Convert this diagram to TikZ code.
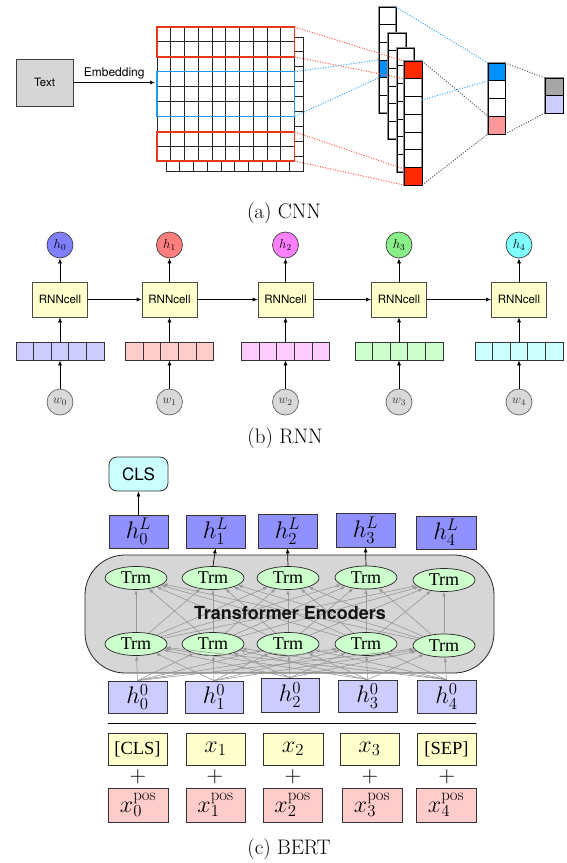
\RequirePackage{fix-cm}
\documentclass[tikz,border=0pt]{standalone}
\usepackage{fontspec}
\newfontfamily\hv{TeX Gyre Heros}
\newfontfamily\tms{Liberation Serif}
\usetikzlibrary{arrows.meta,shapes.geometric}
\definecolor{cnnred}{HTML}{FF2A00}
\definecolor{cnnblue}{HTML}{0091FF}
\definecolor{rectblue}{HTML}{1A9BEF}
\definecolor{rectred}{HTML}{E8381A}
\definecolor{dotred}{HTML}{FF5A3C}
\definecolor{dotblue}{HTML}{33A8FF}
\definecolor{dotblack}{HTML}{555555}
\definecolor{poolpink}{HTML}{FF9999}
\definecolor{outgray}{HTML}{A6A6A6}
\definecolor{lav}{HTML}{CCCCFF}
\definecolor{boxgray}{HTML}{D6D6D6}
\definecolor{cellyel}{HTML}{FFFFCC}
\definecolor{hA}{HTML}{7F7FFF}
\definecolor{hB}{HTML}{FF7F7F}
\definecolor{hC}{HTML}{FF80FF}
\definecolor{hD}{HTML}{88EE88}
\definecolor{hE}{HTML}{80FFFF}
\definecolor{vA}{HTML}{CCCCFF}
\definecolor{vB}{HTML}{FFCCCC}
\definecolor{vC}{HTML}{FFCCFF}
\definecolor{vD}{HTML}{CCFFCC}
\definecolor{vE}{HTML}{CCFFFF}
\definecolor{wgray}{HTML}{D9D9D9}
\definecolor{hLcol}{HTML}{9090FF}
\definecolor{hZcol}{HTML}{CCCCFF}
\definecolor{poscol}{HTML}{FFCCCC}
\definecolor{clscol}{HTML}{CCFFFF}
\definecolor{trmcol}{HTML}{CCFFCC}
\definecolor{arrgray}{HTML}{999999}
\begin{document}
\begin{tikzpicture}[x=1pt,y=-1pt,
  gl/.style={draw=black!85,line width=0.8pt},
  mapsh/.style={fill=white,draw=black!45,line width=1.8pt},
  mapcell/.style={draw=black,line width=0.7pt},
  dotr/.style={draw=dotred,line width=1pt,dash pattern=on 1pt off 1.6pt},
  dotb/.style={draw=dotblue,line width=1pt,dash pattern=on 1pt off 1.6pt},
  dotk/.style={draw=dotblack,line width=1pt,dash pattern=on 1pt off 1.6pt},
  arr/.style={-{Latex[length=5pt,width=4pt]},line width=0.7pt,black},
  garr/.style={-{Latex[length=4.5pt,width=3.5pt]},line width=0.55pt,draw=arrgray,fill=arrgray},
  cellbox/.style={draw=black!70,line width=0.7pt,fill=cellyel,minimum width=55pt,minimum height=35pt,inner sep=0pt,font=\hv\fontsize{11.5}{13}\selectfont},
  hcirc/.style={circle,draw=black!75,line width=0.7pt,minimum size=26pt,inner sep=0pt,font=\fontsize{13}{15}\selectfont},
  wcirc/.style={circle,draw=black!60,line width=0.7pt,fill=wgray,minimum size=26pt,inner sep=0pt,text=black!82,font=\fontsize{12.5}{15}\selectfont},
  vecbox/.style={draw=black!80,line width=0.7pt,minimum width=88pt,minimum height=18pt,inner sep=0pt},
  bbox/.style={draw=black!80,line width=0.8pt,minimum width=59pt,inner sep=0pt,font=\fontsize{24}{28}\selectfont},
  trm/.style={ellipse,draw=black!85,line width=0.7pt,fill=trmcol,minimum width=62pt,minimum height=23pt,inner sep=0pt,font=\tms\fontsize{18}{20}\selectfont},
  plus/.style={inner sep=0pt,font=\fontsize{23}{26}\selectfont},
  capt/.style={inner sep=0pt,font=\fontsize{21}{25}\selectfont}
]
\useasboundingbox (0,0) rectangle (566,863);
\fill[white] (0,0) rectangle (566,863);

% ================= (a) CNN =================
\node (txt) [draw=black!75,line width=0.8pt,fill=boxgray,minimum width=57pt,minimum height=47pt,inner sep=0pt,font=\hv\fontsize{11.5}{13}\selectfont] at (44.5,82.5) {Text};
\coordinate (emb) at (155,82.5);
\draw[arr] (txt.east) -- node[above=0pt,font=\hv\fontsize{12}{14}\selectfont] {Embedding} (emb);

% back matrix
\fill[white] (166,37) rectangle (303.5,171);
\foreach \i in {0,...,10} \draw[gl] ({166+\i*13.75},37) -- ({166+\i*13.75},171);
\foreach \j in {0,...,9} \draw[gl] (166,{37+\j*14.889}) -- (303.5,{37+\j*14.889});
% front matrix
\fill[white] (157,27) rectangle (294.5,161);
\foreach \i in {0,...,10} \draw[gl] ({157+\i*13.75},27) -- ({157+\i*13.75},161);
\foreach \j in {0,...,9} \draw[gl] (157,{27+\j*14.889}) -- (294.5,{27+\j*14.889});
\draw[rectred,line width=1.4pt] (157,27) rectangle (294.5,56.8);
\draw[rectred,line width=1.4pt] (157,131.9) rectangle (294.5,161);
\draw[rectblue,line width=1.4pt] (157,71.7) rectangle (294.5,116.3);

% feature maps
\filldraw[mapsh] (379,7) rectangle (396,113);
\fill[cnnblue] (379,60) rectangle (396,77.7);
\foreach \k in {0,...,5} \draw[mapcell] (379,{7+\k*17.667}) rectangle (396,{7+(\k+1)*17.667});
\filldraw[mapsh] (388,33) rectangle (406,139);
\foreach \k in {0,...,5} \draw[mapcell] (388,{33+\k*17.667}) rectangle (406,{33+(\k+1)*17.667});
\filldraw[mapsh] (397,48) rectangle (414,172);
\foreach \k in {0,...,6} \draw[mapcell] (397,{48+\k*17.714}) rectangle (414,{48+(\k+1)*17.714});
\filldraw[mapsh] (404,61) rectangle (422,185);
\fill[cnnred] (404,61) rectangle (422,78.7);
\fill[cnnred] (404,167.3) rectangle (422,185);
\foreach \k in {0,...,6} \draw[mapcell] (404,{61+\k*17.714}) rectangle (422,{61+(\k+1)*17.714});

% pooled vector
\draw[black!45,line width=1.8pt] (488,63) rectangle (505,134);
\fill[cnnblue] (488,63) rectangle (505,80.75);
\fill[white] (488,80.75) rectangle (505,116.25);
\fill[poolpink] (488,116.25) rectangle (505,134);
\foreach \k in {0,...,3} \draw[mapcell] (488,{63+\k*17.75}) rectangle (505,{63+(\k+1)*17.75});
% output
\draw[black!45,line width=1.8pt] (545,78) rectangle (563,113);
\fill[outgray] (545,78) rectangle (563,95.5);
\fill[lav] (545,95.5) rectangle (563,113);
\draw[mapcell] (545,78) rectangle (563,95.5);
\draw[mapcell] (545,95.5) rectangle (563,113);

% dotted connectors
\coordinate (mr1) at (294.5,27);   \coordinate (fr1) at (404,61);
\coordinate (mr2) at (294.5,56.8); \coordinate (fr2) at (404,78.7);
\coordinate (mr3) at (294.5,131.9);\coordinate (fr3) at (404,169);
\coordinate (mr4) at (294.5,161);  \coordinate (fr4) at (404,185);
\coordinate (mb1) at (294.5,71.7); \coordinate (fb1) at (379,60);
\coordinate (mb2) at (294.5,116.3);\coordinate (fb2) at (379,77.7);
\coordinate (ma) at (396,7);   \coordinate (pa) at (488,63);
\coordinate (mc) at (422,100); \coordinate (pc) at (488,80.75);
\coordinate (md) at (422,61);  \coordinate (pd) at (488,116.25);
\coordinate (me) at (422,185); \coordinate (pe) at (488,134);
\coordinate (pf) at (505,63);  \coordinate (of) at (545,78);
\coordinate (pg) at (505,134); \coordinate (og) at (545,113);
\draw[dotr] (mr1) -- (fr1);
\draw[dotr] (mr2) -- (fr2);
\draw[dotr] (mr3) -- (fr3);
\draw[dotr] (mr4) -- (fr4);
\draw[dotb] (mb1) -- (fb1);
\draw[dotb] (mb2) -- (fb2);
\draw[dotb] (ma) -- (pa);
\draw[dotb] (mc) -- (pc);
\draw[dotk] (md) -- (pd);
\draw[dotk] (me) -- (pe);
\draw[dotk] (pf) -- (of);
\draw[dotk] (pg) -- (og);

\node[capt] (capa) at (284,213) {(a) CNN};

% ================= (b) RNN =================
\foreach \n/\x/\hc/\vc in {0/60/hA/vA,1/169.5/hB/vB,2/285.5/hC/vC,3/399/hD/vD,4/519/hE/vE}{
  \node[cellbox] (cell\n) at (\x,299.5) {RNNcell};
  \node[hcirc,fill=\hc] (h\n) at (\x,245) {$h_{\n}$};
  \node[vecbox,fill=\vc] (vec\n) at (\x,351) {};
  \foreach \k in {1,...,4} \draw[black!80,line width=0.7pt] ({\x-44+\k*17.6},342) -- ({\x-44+\k*17.6},360);
  \node[wcirc] (w\n) at (\x,402) {$w_{\n}$};
  \draw[arr] (w\n.north) -- (vec\n.south);
  \draw[arr] (vec\n.north) -- (cell\n.south);
  \draw[arr] (cell\n.north) -- (h\n.south);
}
\foreach \a/\b in {0/1,1/2,2/3,3/4} \draw[arr] (cell\a.east) -- (cell\b.west);

\node[capt] (capb) at (285,438) {(b) RNN};

% ================= (c) BERT =================
\node (enc) [draw=black!85,line width=0.8pt,fill=boxgray,rounded corners=40pt,minimum width=409pt,minimum height=118pt,inner sep=0pt] at (289.5,614) {};

\node[bbox,fill=clscol,rounded corners=8pt,minimum height=34pt,font=\hv\fontsize{17}{20}\selectfont] (cls) at (138.5,474) {CLS};

\node[bbox,fill=hLcol,minimum height=33pt] (hL0) at (138.5,531.5) {$h_0^L$};
\node[bbox,fill=hLcol,minimum height=33pt] (hL1) at (215.5,531.5) {$h_1^L$};
\node[bbox,fill=hLcol,minimum height=34pt] (hL2) at (287.5,531) {$h_2^L$};
\node[bbox,fill=hLcol,minimum height=34pt] (hL3) at (365.5,530) {$h_3^L$};
\node[bbox,fill=hLcol,minimum height=33pt,minimum width=60pt] (hL4) at (446,532.5) {$h_4^L$};

\node[trm] (t0) at (136,578) {Trm};
\node[trm] (t1) at (213,578) {Trm};
\node[trm] (t2) at (288,578) {Trm};
\node[trm] (t3) at (366,577.5) {Trm};
\node[trm] (t4) at (444,580) {Trm};
\node[trm] (b0) at (136,644) {Trm};
\node[trm] (b1) at (213,644) {Trm};
\node[trm] (b2) at (288,644) {Trm};
\node[trm] (b3) at (366,644) {Trm};
\node[trm] (b4) at (444,645.5) {Trm};

\node[bbox,fill=hZcol,minimum height=32pt] (z0) at (137.5,697) {$h_0^0$};
\node[bbox,fill=hZcol,minimum height=32pt,minimum width=58pt] (z1) at (214,697) {$h_1^0$};
\node[bbox,fill=hZcol,minimum height=34pt,minimum width=58pt] (z2) at (290,695) {$h_2^0$};
\node[bbox,fill=hZcol,minimum height=32pt] (z3) at (367.5,696) {$h_3^0$};
\node[bbox,fill=hZcol,minimum height=33pt] (z4) at (446.5,696.5) {$h_4^0$};

\foreach \i in {0,...,4}{
  \foreach \j in {0,...,4}{
    \draw[garr] (b\j) -- (t\i);
    \draw[garr] (z\j.north) -- (b\i);
  }
}
\node[inner sep=0pt,font=\hv\bfseries\fontsize{18}{20}\selectfont,text=black!92] (tenc) at (290,613) {Transformer Encoders};

\draw[arr] (hL0.north) -- (cls.south);
\draw[arr] (t1.north) -- (hL1.south);
\draw[arr] (t2.north) -- (hL2.south);
\draw[arr] (t3.north) -- (hL3.south);

\coordinate (sepL) at (108,723);
\coordinate (sepR) at (476,723);
\draw[black,line width=0.8pt] (sepL) -- (sepR);

\node[bbox,fill=cellyel,minimum height=32pt,font=\tms\fontsize{18.5}{22}\selectfont] (in0) at (137.5,749) {[CLS]};
\node[bbox,fill=cellyel,minimum height=32pt] (in1) at (215.5,749) {$x_1$};
\node[bbox,fill=cellyel,minimum height=32pt,minimum width=60pt] (in2) at (293,749) {$x_2$};
\node[bbox,fill=cellyel,minimum height=32pt] (in3) at (369.5,749) {$x_3$};
\node[bbox,fill=cellyel,minimum height=32pt,font=\tms\fontsize{18.5}{22}\selectfont] (in4) at (446.5,749) {[SEP]};

\node[plus] (p0) at (138,777) {$+$};
\node[plus] (p1) at (215,777) {$+$};
\node[plus] (p2) at (293,777) {$+$};
\node[plus] (p3) at (370,777) {$+$};
\node[plus] (p4) at (447,777) {$+$};

\node[bbox,fill=poscol,minimum height=34pt,minimum width=60pt] (q0) at (138,805) {$x_0^{\mathrm{pos}}$};
\node[bbox,fill=poscol,minimum height=34pt] (q1) at (215.5,805) {$x_1^{\mathrm{pos}}$};
\node[bbox,fill=poscol,minimum height=34pt] (q2) at (292.5,805) {$x_2^{\mathrm{pos}}$};
\node[bbox,fill=poscol,minimum height=34pt,minimum width=60pt] (q3) at (372,805) {$x_3^{\mathrm{pos}}$};
\node[bbox,fill=poscol,minimum height=34pt,minimum width=60pt] (q4) at (446,805) {$x_4^{\mathrm{pos}}$};

\node[capt] (capc) at (289,849) {(c) BERT};
\end{tikzpicture}
\end{document}
